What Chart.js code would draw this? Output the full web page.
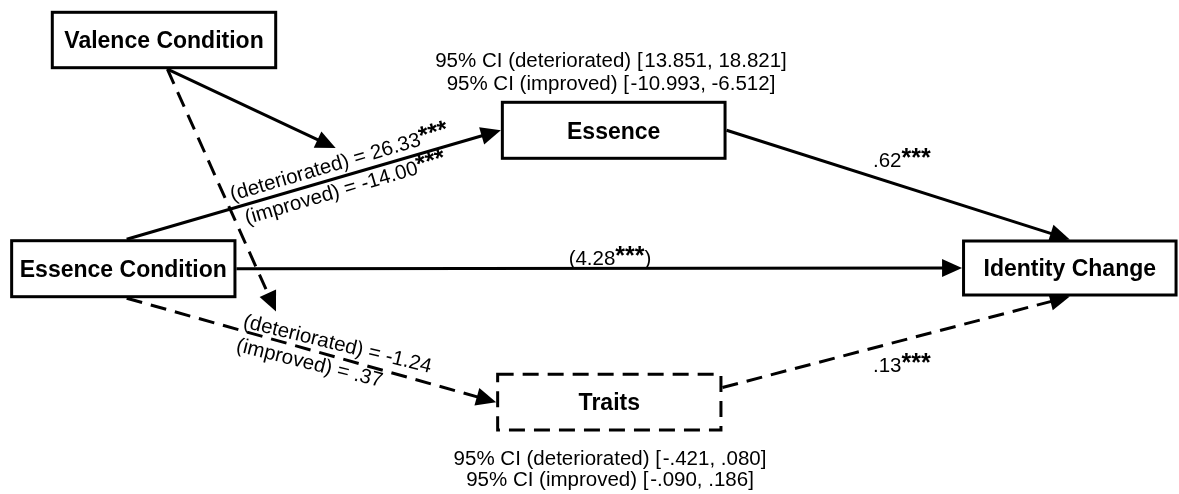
<!DOCTYPE html>
<html>
<head>
<meta charset="utf-8">
<script src="https://cdn.jsdelivr.net/npm/chart.js@4.4.1/dist/chart.umd.min.js"></script>
<style>
  html, body { margin: 0; padding: 0; background: #ffffff; }
  #wrap { width: 1179px; height: 494px; }
</style>
</head>
<body>
<div id="wrap"><canvas id="diagram" width="1179" height="494"></canvas></div>
<script>
// ---- Model: variables, paths and estimates ----
const nodeNames = ['Valence Condition', 'Essence Condition', 'Essence', 'Traits', 'Identity Change'];

const pathFrom = ['Essence Condition', 'Essence', 'Essence Condition', 'Essence Condition', 'Traits'];
const pathTo   = ['Essence', 'Identity Change', 'Identity Change', 'Traits', 'Identity Change'];

// moderation of the a-paths by valence
const moderator = 'Valence Condition';
const moderatedPaths = [0, 3];

const groupLabels = ['(deteriorated)', '(improved)'];
const aEssence = [26.33, -14.00];
const aEssenceSig = ['***', '***'];
const aTraits = [-1.24, 0.37];
const aTraitsSig = ['', ''];
const bEssence = [0.62];
const bTraits = [0.13];
const bSig = ['***', '***'];
const cDirect = [4.28];
const cSig = ['***'];
const ciEssence = [[13.851, 18.821], [-10.993, -6.512]];
const ciTraits = [[-0.421, 0.080], [-0.090, 0.186]];

// ---- Layout ----
const nodeLayout = {
  'Valence Condition': { cx: 164.0, cy: 40.0, w: 223.4, h: 55.4, dashed: false },
  'Essence Condition': { cx: 123.3, cy: 268.7, w: 223.3, h: 56.0, dashed: false },
  'Essence':           { cx: 613.7, cy: 130.3, w: 222.7, h: 56.0, dashed: false },
  'Traits':            { cx: 609.3, cy: 402.2, w: 223.3, h: 55.7, dashed: true },
  'Identity Change':   { cx: 1069.8, cy: 268.0, w: 212.5, h: 54.0, dashed: false }
};
// side anchors (fractions of half width / half height) for each path end
const pathStartSide = [[0.03, -1], [1, 0], [1, 0], [0.03, 1], [1, -0.5]];
const pathEndSide   = [[-1, 0], [0, -1], [-1, 0], [-1, 0], [0, 1]];
const pathDashed    = [false, false, false, true, true];
const moderatorSide = [0.03, 1];
const moderatedAt   = [0.665, 0.444];   // position along the moderated path
const moderatedGap  = [44, 36];         // arrow stops short of the path
const moderatedDashed = [false, true];

const BORDER = 3;
const DASH = [16, 9];
const ARROW_LEN = 20;
const ARROW_HALF = 9;
const FONT_FAMILY = '"Liberation Sans", Arial, Helvetica, sans-serif';
const REG = '20.5px ' + FONT_FAMILY;
const BOLD = 'bold 23px ' + FONT_FAMILY;
const STAR = 'bold 25px ' + FONT_FAMILY;

function fmt(v, d) {
  return v.toFixed(d).replace(/^(-?)0\./, '$1.');
}

function anchor(name, side) {
  const n = nodeLayout[name];
  return {
    x: n.cx + side[0] * (n.w / 2 + BORDER / 2),
    y: n.cy + side[1] * (n.h / 2 + BORDER / 2)
  };
}

// path geometry: start point and arrow tip
const pathGeom = pathFrom.map((f, i) => ({
  start: anchor(f, pathStartSide[i]),
  tip: anchor(pathTo[i], pathEndSide[i]),
  dashed: pathDashed[i]
}));

// moderation arrows aim at a point on the moderated path
const modGeom = moderatedPaths.map((p, k) => {
  const s = anchor(moderator, moderatorSide);
  const g = pathGeom[p];
  const t = moderatedAt[k];
  const px = g.start.x + (g.tip.x - g.start.x) * t;
  const py = g.start.y + (g.tip.y - g.start.y) * t;
  const len = Math.hypot(px - s.x, py - s.y);
  const ux = (px - s.x) / len, uy = (py - s.y) / len;
  return { start: s, tip: { x: px - ux * moderatedGap[k], y: py - uy * moderatedGap[k] }, dashed: moderatedDashed[k] };
});

const arrows = pathGeom.concat(modGeom);

// line ends tucked under the arrowhead
function shaft(a) {
  const len = Math.hypot(a.tip.x - a.start.x, a.tip.y - a.start.y);
  const ux = (a.tip.x - a.start.x) / len, uy = (a.tip.y - a.start.y) / len;
  return [a.start, { x: a.tip.x - ux * ARROW_LEN * 0.8, y: a.tip.y - uy * ARROW_LEN * 0.8 }];
}

const datasets = arrows.map(a => ({
  data: shaft(a),
  showLine: true,
  borderColor: '#000000',
  borderWidth: BORDER,
  borderDash: a.dashed ? DASH : [],
  borderCapStyle: 'butt',
  pointRadius: 0,
  pointHoverRadius: 0,
  fill: false,
  tension: 0
}));

// ---- Text placed on the diagram ----
const texts = [
  // confidence intervals of the Essence indirect path
  { parts: [{ t: '95% CI ' + groupLabels[0] + ' [\u200a' + fmt(ciEssence[0][0], 3) + ', ' + fmt(ciEssence[0][1], 3) + ']', f: REG }], x: 611, y: 67, a: 0, align: 'center' },
  { parts: [{ t: '95% CI ' + groupLabels[1] + ' [\u200a' + fmt(ciEssence[1][0], 3) + ', ' + fmt(ciEssence[1][1], 3) + ']', f: REG }], x: 611, y: 90, a: 0, align: 'center' },
  // confidence intervals of the Traits indirect path
  { parts: [{ t: '95% CI ' + groupLabels[0] + ' [\u200a' + fmt(ciTraits[0][0], 3) + ', ' + fmt(ciTraits[0][1], 3) + ']', f: REG }], x: 610, y: 465, a: 0, align: 'center' },
  { parts: [{ t: '95% CI ' + groupLabels[1] + ' [\u200a' + fmt(ciTraits[1][0], 3) + ', ' + fmt(ciTraits[1][1], 3) + ']', f: REG }], x: 610, y: 486, a: 0, align: 'center' },
  // a-paths, by group
  { parts: [{ t: groupLabels[0] + ' = ' + fmt(aEssence[0], 2), f: REG }, { t: aEssenceSig[0], f: STAR, dy: -1 }], x: 341, y: 169, a: -16.4, align: 'center' },
  { parts: [{ t: groupLabels[1] + ' = ' + fmt(aEssence[1], 2), f: REG }, { t: aEssenceSig[1], f: STAR, dy: -1 }], x: 347, y: 195, a: -16.4, align: 'center' },
  { parts: [{ t: groupLabels[0] + ' = ' + fmt(aTraits[0], 2), f: REG }, { t: aTraitsSig[0], f: STAR, dy: -1 }], x: 336, y: 350, a: 13.7, align: 'center' },
  { parts: [{ t: groupLabels[1] + ' = ' + fmt(aTraits[1], 2), f: REG }, { t: aTraitsSig[1], f: STAR, dy: -1 }], x: 308, y: 369, a: 14.0, align: 'center' },
  // b-paths and direct effect
  { parts: [{ t: fmt(bEssence[0], 2), f: REG }, { t: bSig[0], f: STAR, dy: -1 }], x: 873, y: 167, a: 0, align: 'left' },
  { parts: [{ t: fmt(bTraits[0], 2), f: REG }, { t: bSig[1], f: STAR, dy: -1 }], x: 873, y: 372, a: 0, align: 'left' },
  { parts: [{ t: '(' + fmt(cDirect[0], 2), f: REG }, { t: cSig[0], f: STAR, dy: -1 }, { t: ')', f: REG }], x: 610, y: 265, a: 0, align: 'center' }
];

function drawRich(ctx, item, xs, ys) {
  ctx.save();
  ctx.translate(xs.getPixelForValue(item.x), ys.getPixelForValue(item.y));
  ctx.rotate(item.a * Math.PI / 180);
  ctx.textAlign = 'left';
  ctx.textBaseline = 'alphabetic';
  ctx.fillStyle = '#000000';
  let w = 0;
  const widths = item.parts.map(p => { ctx.font = p.f; const m = ctx.measureText(p.t).width; w += m; return m; });
  let x = item.align === 'center' ? -w / 2 : (item.align === 'right' ? -w : 0);
  item.parts.forEach((p, i) => {
    ctx.font = p.f;
    ctx.fillText(p.t, x, p.dy || 0);
    x += widths[i];
  });
  ctx.restore();
}

const diagramPlugin = {
  id: 'pathDiagram',
  beforeDraw(chart) {
    const ctx = chart.ctx;
    ctx.save();
    ctx.fillStyle = '#ffffff';
    ctx.fillRect(0, 0, chart.width, chart.height);
    ctx.restore();
  },
  afterDatasetsDraw(chart) {
    const ctx = chart.ctx;
    const xs = chart.scales.x, ys = chart.scales.y;

    // arrowheads
    arrows.forEach(a => {
      const tx = xs.getPixelForValue(a.tip.x), ty = ys.getPixelForValue(a.tip.y);
      const sx = xs.getPixelForValue(a.start.x), sy = ys.getPixelForValue(a.start.y);
      const len = Math.hypot(tx - sx, ty - sy);
      const ux = (tx - sx) / len, uy = (ty - sy) / len;
      const bx = tx - ux * ARROW_LEN, by = ty - uy * ARROW_LEN;
      ctx.save();
      ctx.fillStyle = '#000000';
      ctx.beginPath();
      ctx.moveTo(tx, ty);
      ctx.lineTo(bx - uy * ARROW_HALF, by + ux * ARROW_HALF);
      ctx.lineTo(bx + uy * ARROW_HALF, by - ux * ARROW_HALF);
      ctx.closePath();
      ctx.fill();
      ctx.restore();
    });

    // variable boxes
    nodeNames.forEach(name => {
      const n = nodeLayout[name];
      const x0 = xs.getPixelForValue(n.cx - n.w / 2), x1 = xs.getPixelForValue(n.cx + n.w / 2);
      const y0 = ys.getPixelForValue(n.cy - n.h / 2), y1 = ys.getPixelForValue(n.cy + n.h / 2);
      ctx.save();
      ctx.fillStyle = '#ffffff';
      ctx.fillRect(x0, y0, x1 - x0, y1 - y0);
      ctx.strokeStyle = '#000000';
      ctx.lineWidth = BORDER;
      ctx.lineJoin = 'miter';
      ctx.setLineDash(n.dashed ? DASH : []);
      ctx.strokeRect(x0, y0, x1 - x0, y1 - y0);
      ctx.setLineDash([]);
      ctx.fillStyle = '#000000';
      ctx.font = BOLD;
      ctx.textAlign = 'center';
      ctx.textBaseline = 'alphabetic';
      ctx.fillText(name, xs.getPixelForValue(n.cx), ys.getPixelForValue(n.cy) + 8.2);
      ctx.restore();
    });

    // estimates
    texts.forEach(t => drawRich(ctx, t, xs, ys));
  }
};

new Chart(document.getElementById('diagram'), {
  type: 'scatter',
  data: { datasets },
  options: {
    responsive: false,
    animation: false,
    devicePixelRatio: 1,
    layout: { padding: 0 },
    events: [],
    plugins: { legend: { display: false }, tooltip: { enabled: false }, title: { display: false } },
    scales: {
      x: { type: 'linear', min: 0, max: 1179, display: false },
      y: { type: 'linear', min: 0, max: 494, reverse: true, display: false }
    },
    elements: { line: { borderJoinStyle: 'miter' } }
  },
  plugins: [diagramPlugin]
});
</script>
</body>
</html>
